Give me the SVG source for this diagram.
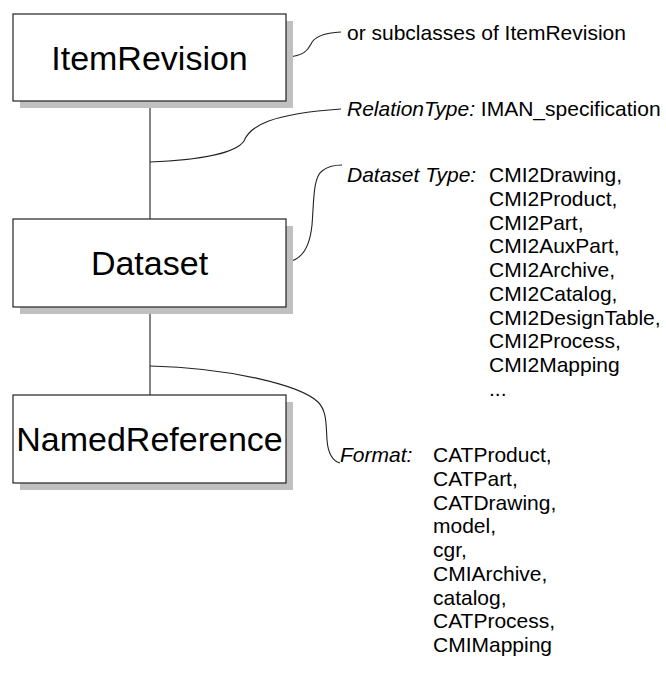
<svg xmlns="http://www.w3.org/2000/svg" width="666" height="677" viewBox="0 0 666 677">
<style>
.shadow{fill:#c0c0c0;stroke:none}
.box{fill:#fff;stroke:#222;stroke-width:1.2}
.lbl{font-family:"Liberation Sans",Arial,sans-serif;font-size:34px;fill:#000;text-anchor:middle}
.t{font-family:"Liberation Sans",Arial,sans-serif;font-size:21px;fill:#000}
.i{font-style:italic}
.c{fill:none;stroke:#222;stroke-width:1.1}
</style>
<rect width="666" height="677" fill="#fff"/>
<g id="connectors">
<line class="c" x1="150" y1="101" x2="150" y2="219"/>
<line class="c" x1="150" y1="307" x2="150" y2="395"/>
<path class="c" d="M287,57 C304,56 308,50 311,44 C314,37 322,33 341,32"/>
<path class="c" d="M150,162 C200,160 236,153 244,141 C250,126 270,114 341,109"/>
<path class="c" d="M287,262 C303,260 310,245 312,225 C314,200 313,178 322,171 C328,166 334,165 342,165"/>
<path class="c" d="M150,366 C230,368 300,385 318,402 C327,411 326,425 327,440 C328,453 333,461 340,463"/>
</g>
<g id="itemrevision">
<rect class="shadow" x="20" y="21" width="273" height="87"/>
<rect class="box" x="13" y="14" width="273" height="87"/>
<text class="lbl" x="149.5" y="70">ItemRevision</text>
</g>
<g id="dataset">
<rect class="shadow" x="20" y="226" width="273" height="88"/>
<rect class="box" x="13" y="219" width="273" height="88"/>
<text class="lbl" x="149.5" y="275">Dataset</text>
</g>
<g id="namedreference">
<rect class="shadow" x="20" y="402" width="273" height="88"/>
<rect class="box" x="13" y="395" width="273" height="88"/>
<text class="lbl" x="149.5" y="451">NamedReference</text>
</g>
<g id="note-subclasses">
<text class="t" x="347" y="40">or subclasses of ItemRevision</text>
</g>
<g id="note-relation">
<text class="t" x="347" y="116"><tspan class="i">RelationType:</tspan> IMAN_specification</text>
</g>
<g id="note-datasettype">
<text class="t i" x="347" y="182">Dataset Type:</text>
<text class="t" x="489" y="182">CMI2Drawing,</text>
<text class="t" x="489" y="205.75">CMI2Product,</text>
<text class="t" x="489" y="229.5">CMI2Part,</text>
<text class="t" x="489" y="253.25">CMI2AuxPart,</text>
<text class="t" x="489" y="277">CMI2Archive,</text>
<text class="t" x="489" y="300.75">CMI2Catalog,</text>
<text class="t" x="489" y="324.5">CMI2DesignTable,</text>
<text class="t" x="489" y="348.25">CMI2Process,</text>
<text class="t" x="489" y="372">CMI2Mapping</text>
<text class="t" x="489" y="395.75">...</text>
</g>
<g id="note-format">
<text class="t i" x="340" y="462">Format:</text>
<text class="t" x="433" y="462">CATProduct,</text>
<text class="t" x="433" y="485.75">CATPart,</text>
<text class="t" x="433" y="509.5">CATDrawing,</text>
<text class="t" x="433" y="533.25">model,</text>
<text class="t" x="433" y="557">cgr,</text>
<text class="t" x="433" y="580.75">CMIArchive,</text>
<text class="t" x="433" y="604.5">catalog,</text>
<text class="t" x="433" y="628.25">CATProcess,</text>
<text class="t" x="433" y="652">CMIMapping</text>
</g>
</svg>
